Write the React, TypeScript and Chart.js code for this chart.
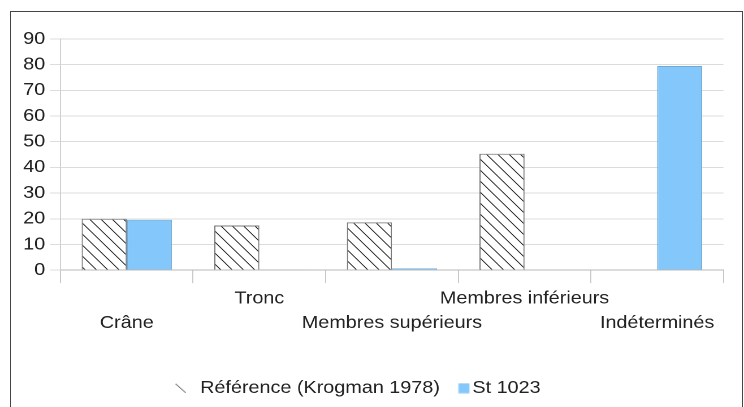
import React, { useEffect, useRef } from "react";
import { Chart, registerables } from "chart.js";

Chart.register(...registerables);

const categories: string[][] = [
  ["", "Crâne"],
  ["Tronc", ""],
  ["", "Membres supérieurs"],
  ["Membres inférieurs", ""],
  ["", "Indéterminés"],
];
const referenceValues: (number | null)[] = [20, 17.4, 18.6, 45.3, null];
const st1023Values: (number | null)[] = [19.6, 0.3, 0.7, null, 79.5];
const seriesNames = ["Référence (Krogman 1978)", "St 1023"];
const yTicks = { min: 0, max: 90, step: 10 };

const FONT = "'Liberation Sans', Arial, sans-serif";
const FS = 17.5;
const BLUE = "#83c7fb";
// the reference is horizontally stretched: draw on a narrower canvas, display at 744px
const CW = 658;
const CH = 407;

function makeHatch(): CanvasPattern | string {
  const w = 10;
  const h = 11;
  const c = document.createElement("canvas");
  c.width = w * 2;
  c.height = h * 2;
  const x = c.getContext("2d");
  if (!x) return "#fff";
  x.fillStyle = "#ffffff";
  x.fillRect(0, 0, w * 2, h * 2);
  x.strokeStyle = "#1a1a1a";
  x.lineWidth = 1.6;
  x.beginPath();
  for (let k = -2; k <= 2; k++) {
    x.moveTo(k * w * 2 - 2, -2 * (h / w));
    x.lineTo(k * w * 2 + w * 2 + 2, h * 2 + 2 * (h / w));
  }
  x.stroke();
  const p = x.createPattern(c, "repeat");
  if (p && (p as any).setTransform) {
    (p as any).setTransform(new DOMMatrix([0.5, 0, 0, 0.5, 0, 0]));
  }
  return p || "#fff";
}

function makeLegendHatch(): HTMLCanvasElement {
  const c = document.createElement("canvas");
  c.width = 24;
  c.height = 11;
  const x = c.getContext("2d")!;
  x.strokeStyle = "#555";
  x.lineWidth = 1;
  x.beginPath();
  x.moveTo(4, 1);
  x.lineTo(13, 10);
  x.stroke();
  return c;
}

function makeLegendBox(): HTMLCanvasElement {
  const c = document.createElement("canvas");
  c.width = 24;
  c.height = 11;
  const x = c.getContext("2d")!;
  x.fillStyle = BLUE;
  x.fillRect(13.4, 0.5, 9.7, 10);
  return c;
}

export default function App() {
  const ref = useRef<HTMLCanvasElement | null>(null);

  useEffect(() => {
    if (!ref.current) return;
    const hatch = makeHatch();
    const icon1 = makeLegendHatch();
    const icon2 = makeLegendBox();
    const chart = new Chart(ref.current, {
      type: "bar",
      data: {
        labels: categories,
        datasets: [
          {
            label: seriesNames[0],
            data: referenceValues,
            backgroundColor: hatch as any,
            borderColor: "#777",
            borderWidth: 1,
          },
          {
            label: seriesNames[1],
            data: st1023Values,
            backgroundColor: BLUE,
            borderColor: "#6fa9d6",
            borderWidth: 1,
          },
        ],
      },
      options: {
        animation: false,
        responsive: false,
        maintainAspectRatio: false,
        devicePixelRatio: 2,
        layout: { padding: { left: 16, right: 18.2, top: 39, bottom: 0 } },
        datasets: {
          bar: { categoryPercentage: 0.68, barPercentage: 1 },
        },
        plugins: {
          tooltip: { enabled: false },
          legend: {
            position: "bottom",
            labels: {
              color: "#222",
              font: { family: FONT, size: FS },
              usePointStyle: true,
              boxWidth: 10,
              padding: 10,
              generateLabels: () => [
                {
                  text: seriesNames[0],
                  pointStyle: icon1 as any,
                  fillStyle: "#fff",
                  strokeStyle: "#555",
                  lineWidth: 0,
                  hidden: false,
                  datasetIndex: 0,
                  fontColor: "#222",
                },
                {
                  text: seriesNames[1] + "    ",
                  pointStyle: icon2 as any,
                  fillStyle: BLUE,
                  strokeStyle: BLUE,
                  lineWidth: 0,
                  hidden: false,
                  datasetIndex: 1,
                  fontColor: "#222",
                },
              ],
            },
          },
        },
        scales: {
          x: {
            afterFit: (scale: any) => {
              scale.height += 31;
            },
            grid: {
              display: true,
              drawOnChartArea: false,
              drawTicks: true,
              tickLength: 13,
              color: "#c8c8c8",
              offset: true,
            },
            border: { display: true, color: "#b8b8b8" },
            ticks: {
              color: "#222",
              font: { family: FONT, size: FS, lineHeight: 1.41 },
              maxRotation: 0,
              minRotation: 0,
              autoSkip: false,
              padding: 3,
            },
          },
          y: {
            min: yTicks.min,
            max: yTicks.max,
            grid: {
              color: "#dcdcdc",
              tickLength: 9,
              drawTicks: true,
            },
            border: { display: true, color: "#d0d0d0" },
            ticks: {
              stepSize: yTicks.step,
              color: "#222",
              font: { family: FONT, size: FS },
              padding: 4.5,
            },
          },
        },
      },
    });
    return () => chart.destroy();
  }, []);

  return (
    <div
      style={{
        position: "fixed",
        left: 0,
        top: 0,
        width: 744,
        height: 407,
        background: "#fff",
        overflow: "hidden",
      }}
    >
      <div
        style={{
          position: "absolute",
          left: 10,
          top: 11,
          width: 733,
          height: 420,
          border: "1px solid #444",
          boxSizing: "border-box",
        }}
      />
      <canvas
        ref={ref}
        width={CW}
        height={CH}
        style={{ position: "absolute", left: 0, top: 0, width: "744px", height: "407px" }}
      />
    </div>
  );
}
